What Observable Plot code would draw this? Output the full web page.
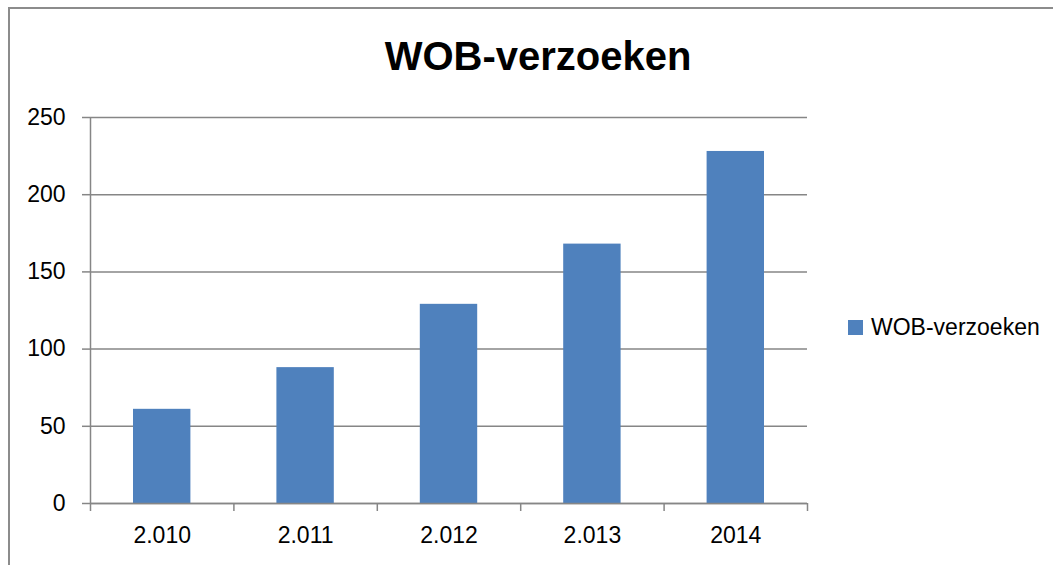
<!DOCTYPE html>
<html><head><meta charset="utf-8">
<script src="https://cdn.jsdelivr.net/npm/d3@7"></script>
<script src="https://cdn.jsdelivr.net/npm/@observablehq/plot@0.6"></script>
<style>
html,body{margin:0;padding:0;background:#fff;width:1053px;height:565px;overflow:hidden}
#wrap{position:relative;width:1053px;height:565px;font-family:"Liberation Sans",Arial,sans-serif;color:#000}
#chart{position:absolute;left:0;top:0}
#frame{position:absolute;left:8px;top:7px;width:1100px;height:600px;border:2px solid #8c8c8c;box-sizing:border-box;pointer-events:none}
#title{position:absolute;left:0;width:1076px;top:36px;text-align:center;font-weight:bold;font-size:40px;line-height:1;white-space:nowrap}
#legend{position:absolute;left:848px;top:316px;font-size:23px;line-height:1;white-space:nowrap;display:flex;align-items:center}
#legend .sw{display:inline-block;width:15px;height:15px;background:#4F81BD;margin-right:8px}
</style>
</head><body>
<div id="wrap">
  <div id="chart"></div>
  <div id="title"></div>
  <div id="legend"></div>
  <div id="frame"></div>
</div>
<script>
const title = "WOB-verzoeken";
const seriesName = "WOB-verzoeken";
const categories = ["2.010", "2.011", "2.012", "2.013", "2014"];
const values = [61, 88, 129, 168, 228];
const yTicks = [0, 50, 100, 150, 200, 250];
const barColor = "#4F81BD";

const data = categories.map((c, i) => ({label: c, i, value: values[i]}));
const centers = categories.map((c, i) => i + 0.5);
const bounds = d3.range(categories.length + 1);

const gray = "#868686";
const chart = Plot.plot({
  width: 1053,
  height: 565,
  marginLeft: 90,
  marginRight: 246,
  marginTop: 117,
  marginBottom: 62,
  style: {fontSize: "23px", fontFamily: "'Liberation Sans', Arial, sans-serif", color: "#000", background: "transparent"},
  x: {type: "linear", domain: [0, categories.length], axis: null},
  y: {domain: [0, 250], axis: null},
  marks: [
    Plot.gridY(yTicks, {stroke: gray, strokeOpacity: 1, strokeWidth: 1.5}),
    Plot.rectY(data, {x1: "i", x2: d => d.i + 1, y: "value", fill: barColor, insetLeft: 43, insetRight: 43}),
    Plot.ruleX([0], {stroke: gray, strokeWidth: 1.5}),
    Plot.ruleY([0], {stroke: gray, strokeWidth: 1.5}),
    Plot.axisY({ticks: yTicks, tickSize: 8, tickPadding: 17, stroke: gray, strokeWidth: 1.5, fill: "#000", label: null}),
    Plot.axisX({ticks: bounds, tickSize: 8, tickFormat: () => "", stroke: gray, strokeWidth: 1.5, label: null}),
    Plot.axisX({ticks: centers, tickSize: 0, tickPadding: 23, tickFormat: d => categories[Math.floor(d)], fill: "#000", label: null})
  ]
});
document.getElementById("chart").appendChild(chart);
document.getElementById("title").textContent = title;
const lg = document.getElementById("legend");
lg.innerHTML = '<span class="sw"></span><span></span>';
lg.lastChild.textContent = seriesName;
</script>
</body></html>
